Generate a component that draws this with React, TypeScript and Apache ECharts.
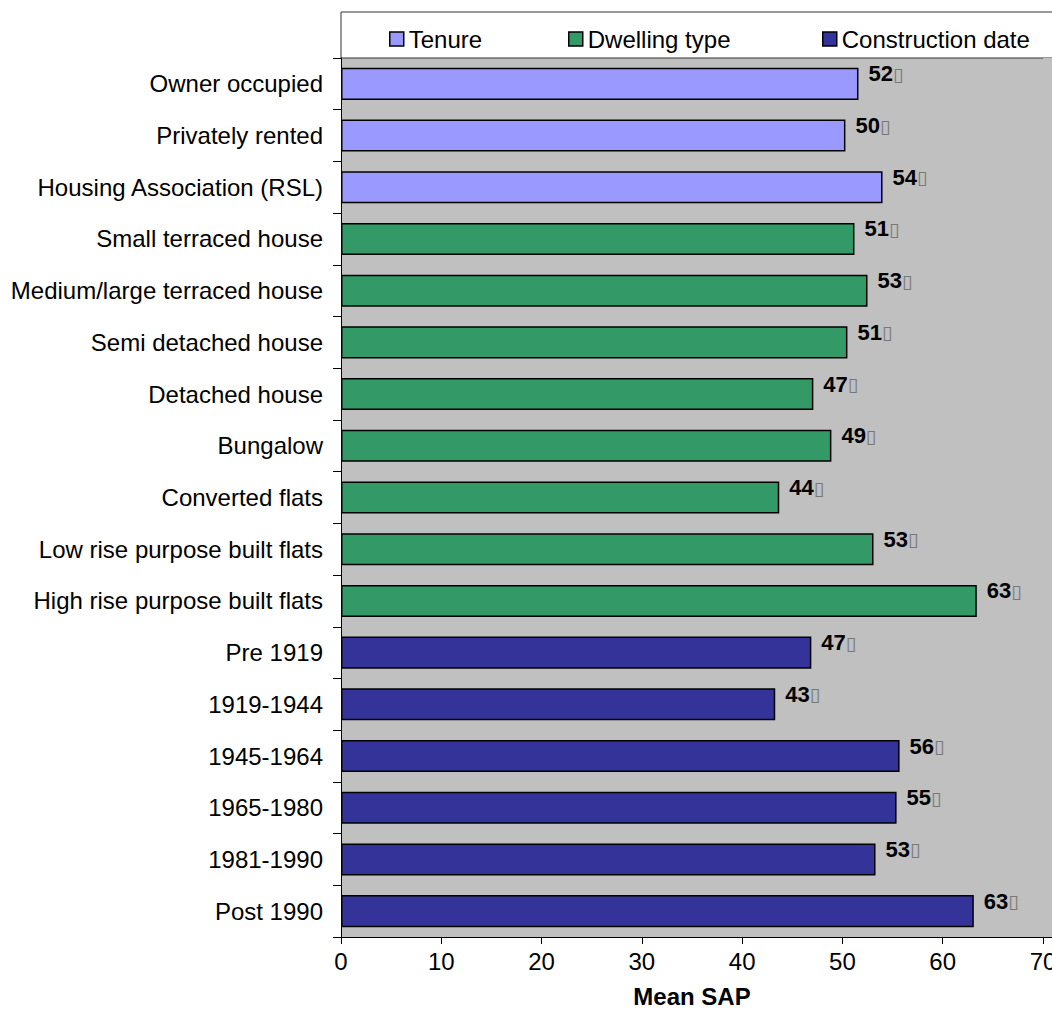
import React, { useEffect, useRef } from "react";
import * as echarts from "echarts";

const categories = [
  "Owner occupied",
  "Privately rented",
  "Housing Association (RSL)",
  "Small terraced house",
  "Medium/large terraced house",
  "Semi detached house",
  "Detached house",
  "Bungalow",
  "Converted flats",
  "Low rise purpose built flats",
  "High rise purpose built flats",
  "Pre 1919",
  "1919-1944",
  "1945-1964",
  "1965-1980",
  "1981-1990",
  "Post 1990",
];

const groupOf = [
  "Tenure", "Tenure", "Tenure",
  "Dwelling type", "Dwelling type", "Dwelling type", "Dwelling type",
  "Dwelling type", "Dwelling type", "Dwelling type", "Dwelling type",
  "Construction date", "Construction date", "Construction date",
  "Construction date", "Construction date", "Construction date",
];

const meanSap = [51.6, 50.3, 54.0, 51.2, 52.5, 50.5, 47.1, 48.9, 43.7, 53.1, 63.4, 46.9, 43.3, 55.7, 55.4, 53.3, 63.1];

const seriesNames = ["Tenure", "Dwelling type", "Construction date"];
const seriesColors = ["#9999ff", "#339966", "#333399"];
const legendLefts = [384, 563, 817];

const xTicks = [0, 10, 20, 30, 40, 50, 60, 70];

const FONT = "'Liberation Sans', Arial, sans-serif";

export default function App() {
  const ref = useRef<HTMLDivElement>(null);
  useEffect(() => {
    if (!ref.current) return;
    const chart = echarts.init(ref.current, undefined, { renderer: "svg" });
    const left = 341;
    const top = 58;
    const bottom = 76;
    const right = 9;

    const series = seriesNames.map((name, si) => ({
      name,
      type: "bar",
      stack: "all",
      barCategoryGap: "38%",
      data: meanSap.map((v, i) => (groupOf[i] === name ? v : "-")),
      itemStyle: { color: seriesColors[si], borderColor: "#000", borderWidth: 1.5 },
      label: {
        show: true,
        position: "right",
        distance: 10,
        offset: [0, -10],
        formatter: (p: any) => `{v|${Math.round(p.value)}}{b|▯}`,
        rich: {
          v: { fontFamily: FONT, fontWeight: "bold", fontSize: 22, color: "#000" },
          b: { fontFamily: "'DejaVu Sans', sans-serif", fontSize: 19, color: "#777" },
        },
      },
    }));

    chart.setOption({
      animation: false,
      backgroundColor: "#fff",
      textStyle: { fontFamily: FONT, color: "#000" },
      grid: {
        left, top, right, bottom,
        outerBoundsMode: "none",
        containLabel: false,
        show: true,
        backgroundColor: "#c0c0c0",
        borderWidth: 0,
      },
      legend: seriesNames.map((name, i) => ({
        data: [name],
        left: legendLefts[i],
        top: 22,
        itemWidth: 14,
        itemHeight: 14,
        icon: "rect",
        selectedMode: false,
        itemStyle: { borderColor: "#000", borderWidth: 1.5 },
        textStyle: { fontFamily: FONT, fontSize: 24, color: "#000" },
      })),
      xAxis: {
        type: "value",
        min: 0,
        max: 70,
        interval: 10,
        name: "Mean SAP",
        nameLocation: "middle",
        nameGap: 47,
        nameTextStyle: { fontFamily: FONT, fontWeight: "bold", fontSize: 24, color: "#000" },
        axisLine: { show: true, lineStyle: { color: "#000", width: 1 } },
        axisTick: { show: true, length: 7, lineStyle: { color: "#000" } },
        axisLabel: {
          fontFamily: FONT,
          fontSize: 24,
          color: "#000",
          margin: 12,
          formatter: (v: number) => (xTicks.includes(v) ? String(v) : ""),
        },
        splitLine: { show: false },
      },
      yAxis: {
        type: "category",
        inverse: true,
        data: categories,
        axisLine: { show: true, lineStyle: { color: "#000", width: 1 } },
        axisTick: { show: true, length: 8, lineStyle: { color: "#000" } },
        axisLabel: { fontFamily: FONT, fontSize: 24, color: "#000", margin: 18 },
        splitLine: { show: false },
      },
      graphic: [
        {
          type: "rect",
          z: 0,
          shape: { x: 341, y: 12, width: 760, height: 46 },
          style: { fill: "#fff", stroke: "#333", lineWidth: 1 },
        },
        {
          type: "rect",
          z: 0,
          shape: { x: 1043, y: 58, width: 20, height: 879 },
          style: { fill: "#c0c0c0" },
        },
        {
          type: "line",
          z: 1,
          shape: { x1: 1043, y1: 937.5, x2: 1060, y2: 937.5 },
          style: { stroke: "#000", lineWidth: 1 },
        },
      ],
      series,
    });
    return () => chart.dispose();
  }, []);
  return (
    <div
      ref={ref}
      style={{ position: "absolute", left: 0, top: 0, width: 1052, height: 1013 }}
    />
  );
}
